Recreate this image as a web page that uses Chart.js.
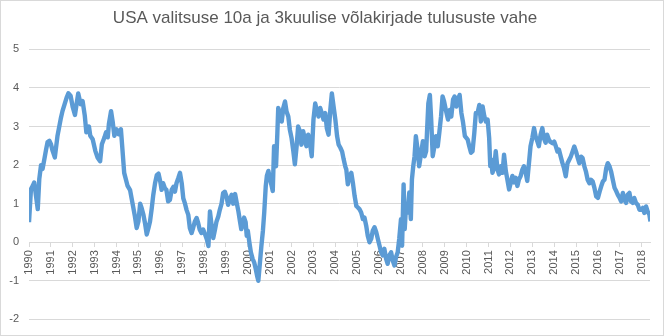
<!DOCTYPE html>
<html>
<head>
<meta charset="utf-8">
<script src="https://cdn.jsdelivr.net/npm/chart.js@4"></script>
<style>
  html, body { margin: 0; padding: 0; background: #fff; }
  #wrap { width: 664px; height: 336px; }
</style>
</head>
<body>
<div id="wrap"><canvas id="myChart" width="664" height="336"></canvas></div>
<script>
// Data (decimal year, spread in %)
const title = 'USA valitsuse 10a ja 3kuulise võlakirjade tulususte vahe';
const years = [1990, 1991, 1992, 1993, 1994, 1995, 1996, 1997, 1998, 1999, 2000, 2001, 2002, 2003, 2004,
  2005, 2006, 2007, 2008, 2009, 2010, 2011, 2012, 2013, 2014, 2015, 2016, 2017, 2018];
const yTicks = [-2, -1, 0, 1, 2, 3, 4, 5];

const dates = [
  1990.00, 1990.09, 1990.17, 1990.24, 1990.32, 1990.40, 1990.47, 1990.55, 1990.62, 1990.70, 1990.78, 1990.85, 1990.93,
  1991.00, 1991.08, 1991.18, 1991.30, 1991.45, 1991.53, 1991.60, 1991.72, 1991.80, 1991.90,
  1992.00, 1992.10, 1992.18, 1992.25, 1992.36, 1992.45, 1992.55, 1992.62, 1992.74, 1992.80, 1992.91,
  1993.03, 1993.13, 1993.25, 1993.33, 1993.45, 1993.52, 1993.60, 1993.65, 1993.75, 1993.83, 1993.90,
  1994.00, 1994.09, 1994.20, 1994.27, 1994.35, 1994.50, 1994.62, 1994.75, 1994.84, 1994.92,
  1995.00, 1995.08, 1995.15, 1995.23, 1995.30, 1995.38, 1995.46, 1995.53, 1995.61, 1995.68, 1995.76, 1995.84, 1995.92,
  1996.00, 1996.06, 1996.13, 1996.21, 1996.28, 1996.36, 1996.44, 1996.52, 1996.60, 1996.67, 1996.74, 1996.82, 1996.90, 1996.98,
  1997.05, 1997.13, 1997.20, 1997.28, 1997.35, 1997.43, 1997.50, 1997.58, 1997.66, 1997.73, 1997.80, 1997.88, 1997.96,
  1998.05, 1998.13, 1998.20, 1998.27, 1998.35, 1998.42, 1998.50, 1998.57, 1998.65, 1998.72, 1998.80, 1998.87, 1998.95,
  1999.03, 1999.10, 1999.18, 1999.26, 1999.33, 1999.42, 1999.50, 1999.57, 1999.64, 1999.70, 1999.76, 1999.83, 1999.90, 1999.95,
  2000.00, 2000.07, 2000.14, 2000.22, 2000.29, 2000.36, 2000.42, 2000.48, 2000.55, 2000.62, 2000.69, 2000.75, 2000.82, 2000.87, 2000.94,
  2001.02, 2001.09, 2001.14, 2001.20, 2001.24, 2001.29, 2001.35, 2001.39, 2001.47, 2001.55, 2001.62, 2001.70, 2001.77, 2001.85, 2001.92,
  2002.00, 2002.08, 2002.15, 2002.23, 2002.30, 2002.38, 2002.45, 2002.53, 2002.61, 2002.68, 2002.76, 2002.84, 2002.92,
  2003.00, 2003.08, 2003.15, 2003.23, 2003.31, 2003.38, 2003.46, 2003.54, 2003.61, 2003.69, 2003.77, 2003.84, 2003.92,
  2004.00, 2004.08, 2004.15, 2004.23, 2004.31, 2004.38, 2004.46, 2004.50, 2004.57, 2004.65, 2004.73, 2004.80, 2004.88, 2004.96,
  2005.03, 2005.10, 2005.18, 2005.26, 2005.33, 2005.41, 2005.48, 2005.56, 2005.64, 2005.71, 2005.79, 2005.87, 2005.94,
  2006.02, 2006.09, 2006.17, 2006.24, 2006.32, 2006.39, 2006.47, 2006.55, 2006.62, 2006.70, 2006.77, 2006.85, 2006.92,
  2007.00, 2007.05, 2007.12, 2007.17, 2007.23, 2007.30, 2007.38, 2007.45, 2007.50, 2007.56, 2007.62, 2007.68, 2007.76, 2007.83, 2007.91,
  2008.00, 2008.08, 2008.15, 2008.20, 2008.25, 2008.32, 2008.38, 2008.45, 2008.53, 2008.60, 2008.68, 2008.75, 2008.83, 2008.90, 2008.97,
  2009.05, 2009.15, 2009.23, 2009.30, 2009.38, 2009.45, 2009.53, 2009.60, 2009.68, 2009.76, 2009.83, 2009.92,
  2010.05, 2010.12, 2010.20, 2010.27, 2010.35, 2010.42, 2010.50, 2010.58, 2010.65, 2010.73, 2010.81, 2010.88, 2010.96,
  2011.03, 2011.08, 2011.12, 2011.18, 2011.26, 2011.33, 2011.41, 2011.48, 2011.56, 2011.64, 2011.71, 2011.79, 2011.86, 2011.94,
  2012.02, 2012.09, 2012.17, 2012.24, 2012.32, 2012.39, 2012.47, 2012.55, 2012.62, 2012.70, 2012.77, 2012.85, 2012.92,
  2013.00, 2013.08, 2013.15, 2013.23, 2013.30, 2013.38, 2013.46, 2013.53, 2013.61, 2013.68, 2013.76, 2013.83, 2013.92,
  2014.00, 2014.08, 2014.15, 2014.22, 2014.30, 2014.38, 2014.45, 2014.53, 2014.61, 2014.69, 2014.76, 2014.84, 2014.92,
  2015.00, 2015.08, 2015.15, 2015.23, 2015.30, 2015.38, 2015.45, 2015.53, 2015.61, 2015.68, 2015.76, 2015.84, 2015.92,
  2016.00, 2016.08, 2016.15, 2016.23, 2016.30, 2016.38, 2016.45, 2016.53, 2016.60, 2016.68, 2016.76, 2016.84, 2016.91, 2016.99,
  2017.06, 2017.14, 2017.21, 2017.29, 2017.36, 2017.44, 2017.51, 2017.59, 2017.66, 2017.74, 2017.82, 2017.90, 2017.97,
  2018.05, 2018.12, 2018.20, 2018.27, 2018.35, 2018.40
];

const spread = [
  0.52, 1.38, 1.46, 1.55, 1.20, 0.86, 1.64, 2.00, 1.90, 2.15, 2.40, 2.60, 2.63,
  2.55, 2.37, 2.20, 2.75, 3.20, 3.40, 3.53, 3.75, 3.86, 3.80,
  3.50, 3.30, 3.60, 3.86, 3.58, 3.66, 3.28, 2.85, 3.00, 2.76, 2.67,
  2.37, 2.20, 2.10, 2.54, 2.72, 2.85, 2.72, 3.06, 3.40, 3.10, 2.76,
  2.93, 2.80, 2.93, 2.41, 1.80, 1.47, 1.35, 0.95, 0.67, 0.37,
  0.54, 1.00, 0.88, 0.71, 0.50, 0.20, 0.37, 0.54, 0.88, 1.23, 1.53, 1.74, 1.78,
  1.57, 1.36, 1.53, 1.40, 1.36, 1.06, 1.10, 1.36, 1.44, 1.31, 1.53, 1.66, 1.80, 1.53,
  1.14, 1.00, 0.84, 0.71, 0.37, 0.24, 0.37, 0.54, 0.63, 0.50, 0.33, 0.24, 0.33,
  0.20, 0.07, -0.10, 0.80, 0.41, 0.11, 0.33, 0.54, 0.67, 0.84, 1.00, 1.27, 1.31,
  1.18, 0.97, 1.10, 1.23, 1.00, 1.25, 1.00, 0.80, 0.55, 0.34, 0.43, 0.64, 0.52, 0.17,
  0.30, 0.00, -0.26, -0.43, -0.52, -0.69, -0.86, -1.00, -0.55, -0.10, 0.30, 0.77, 1.46, 1.72, 1.85,
  1.63, 1.46, 1.33, 2.49, 2.40, 1.97, 2.83, 3.48, 3.35, 3.13, 3.48, 3.65, 3.39, 3.26, 2.92,
  2.70, 2.36, 2.02, 2.49, 3.00, 2.88, 2.53, 2.88, 2.66, 2.49, 2.79, 2.58, 2.23,
  3.18, 3.60, 3.43, 3.26, 3.48, 3.35, 3.18, 3.35, 2.96, 2.79, 3.43, 3.86, 3.52,
  3.18, 2.75, 2.53, 2.45, 2.35, 2.15, 1.95, 1.89, 1.50, 1.72, 1.80, 1.55, 1.20, 0.94,
  0.90, 0.86, 0.77, 0.60, 0.64, 0.43, 0.17, 0.00, 0.09, 0.30, 0.39, 0.26, 0.09,
  -0.09, -0.26, -0.34, -0.17, -0.43, -0.56, -0.34, -0.26, -0.47, -0.60, -0.39, -0.26, 0.09,
  0.60, -0.09, 1.50, 0.34, 0.94, 0.77, 1.29, 0.60, 1.63, 1.97, 2.23, 2.75, 2.40, 1.97, 2.27,
  2.62, 2.23, 2.36, 3.00, 3.60, 3.82, 3.18, 2.23, 2.49, 2.75, 2.49, 2.83, 3.26, 3.78, 3.65,
  3.43, 3.18, 3.43, 3.26, 3.70, 3.78, 3.52, 3.70, 3.82, 3.35, 3.13, 2.75,
  2.66, 2.49, 2.32, 2.36, 2.83, 3.35, 3.35, 3.56, 3.13, 3.52, 3.26, 3.13, 3.18,
  2.70, 1.97, 2.15, 1.80, 1.93, 2.36, 1.89, 1.76, 1.97, 1.80, 2.27, 1.85, 1.63, 1.37,
  1.55, 1.72, 1.55, 1.67, 1.46, 1.63, 1.72, 1.89, 1.97, 1.80, 1.59, 2.06, 2.49,
  2.70, 2.96, 2.75, 2.62, 2.49, 2.79, 2.96, 2.70, 2.58, 2.79, 2.66, 2.60, 2.57,
  2.61, 2.48, 2.35, 2.40, 2.22, 2.05, 1.92, 1.71, 2.05, 2.14, 2.22, 2.35, 2.48,
  2.35, 2.18, 2.05, 2.22, 2.18, 1.97, 1.84, 1.62, 1.53, 1.62, 1.58, 1.41, 1.19,
  1.15, 1.32, 1.45, 1.58, 1.62, 1.92, 2.05, 1.97, 1.84, 1.62, 1.41, 1.32, 1.23, 1.15,
  1.06, 1.28, 1.10, 1.02, 1.23, 1.28, 1.06, 1.02, 1.15, 1.02, 0.97, 0.84, 0.84,
  0.89, 0.76, 0.93, 0.80, 0.72, 0.54
];

const gray = '#595959';
const gridColor = '#d9d9d9';
const font = "'Liberation Sans Narrow', 'Arial Narrow', sans-serif";

const frame = {
  id: 'frame',
  beforeDraw(chart) {
    const ctx = chart.ctx;
    ctx.save();
    ctx.fillStyle = '#fff';
    ctx.fillRect(0, 0, chart.width, chart.height);
    ctx.strokeStyle = gridColor;
    ctx.lineWidth = 1;
    ctx.strokeRect(0.5, 0.5, chart.width - 1, chart.height - 1);
    ctx.restore();
  }
};

const ctx = document.getElementById('myChart').getContext('2d');
new Chart(ctx, {
  type: 'line',
  data: {
    datasets: [{
      data: dates.map((d, i) => ({ x: d, y: spread[i] })),
      borderColor: '#5B9BD5',
      borderWidth: 4.4,
      borderJoinStyle: 'round',
      pointRadius: 0,
      tension: 0,
      fill: false
    }]
  },
  options: {
    responsive: false,
    animation: false,
    layout: { padding: { left: 0, right: 14, top: 0, bottom: 13 } },
    plugins: {
      legend: { display: false },
      tooltip: { enabled: false },
      title: {
        display: true,
        text: title,
        color: gray,
        font: { family: font, size: 17, weight: 'normal' },
        padding: { top: 8, bottom: 21 }
      }
    },
    scales: {
      x: {
        type: 'linear',
        min: 1990,
        max: 2018.38,
        position: { y: 0 },
        afterBuildTicks: s => { s.ticks = years.map(v => ({ value: v })); },
        ticks: {
          autoSkip: false,
          minRotation: 90,
          maxRotation: 90,
          padding: 4,
          color: gray,
          font: { family: font, size: 11 },
          callback: v => String(v)
        },
        grid: { drawOnChartArea: false, drawTicks: true, tickLength: 4, color: gridColor },
        border: { display: true, color: gridColor }
      },
      y: {
        min: -2,
        max: 5,
        afterBuildTicks: s => { s.ticks = yTicks.map(v => ({ value: v })); },
        afterFit: s => { s.width = 29; },
        ticks: {
          padding: 10,
          color: gray,
          font: { family: font, size: 11 }
        },
        grid: { color: gridColor, drawTicks: false },
        border: { display: false }
      }
    }
  },
  plugins: [frame]
});
</script>
</body>
</html>
